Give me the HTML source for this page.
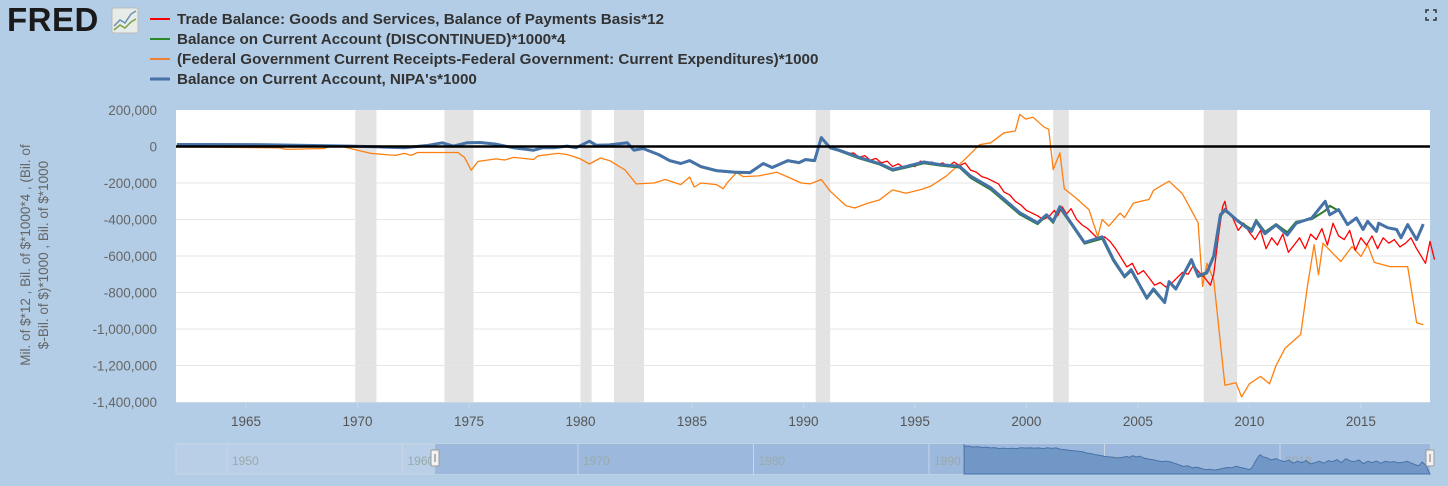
<!DOCTYPE html>
<html><head><meta charset="utf-8">
<style>
body{margin:0;background:#b3cde6;font-family:"Liberation Sans",sans-serif;}
#wrap{position:relative;width:1448px;height:486px;overflow:hidden;background:#b3cde6;}
svg text{font-family:"Liberation Sans",sans-serif;}
</style></head>
<body>
<div id="wrap">
<svg id="chart" width="1448" height="486">
  <g>
    <text x="7" y="31" font-size="33" font-weight="bold" fill="#1a1a1a" letter-spacing="0.5">FRED</text>
    <rect x="112" y="8" width="26" height="25" rx="2" fill="#e8ece8" stroke="#bbb"/>
    <polyline points="114,26 120,20 125,23 131,14 136,11" fill="none" stroke="#6b8fb5" stroke-width="1.5"/>
    <polyline points="114,30 120,25 125,28 131,22 136,19" fill="none" stroke="#7aa04a" stroke-width="1.5"/>
  </g>
  <g font-size="15.2" font-weight="bold" fill="#333">
    <g><line x1="150" y1="19" x2="170" y2="19" stroke="#ff0000" stroke-width="2"/><text x="177" y="24">Trade Balance: Goods and Services, Balance of Payments Basis*12</text></g>
    <g><line x1="150" y1="39" x2="170" y2="39" stroke="#2a8a2a" stroke-width="2"/><text x="177" y="44">Balance on Current Account (DISCONTINUED)*1000*4</text></g>
    <g><line x1="150" y1="59" x2="170" y2="59" stroke="#f08030" stroke-width="2"/><text x="177" y="64">(Federal Government Current Receipts-Federal Government: Current Expenditures)*1000</text></g>
    <g><line x1="150" y1="79" x2="170" y2="79" stroke="#4572a7" stroke-width="3"/><text x="177" y="84">Balance on Current Account, NIPA's*1000</text></g>
  </g>
  <g stroke="#333" stroke-width="1.5" fill="none">
    <polyline points="1426,13 1426,10 1429,10"/><polyline points="1433,10 1436,10 1436,13"/>
    <polyline points="1426,17 1426,20 1429,20"/><polyline points="1433,20 1436,20 1436,17"/>
  </g>
  <text transform="translate(30,255) rotate(-90)" text-anchor="middle" font-size="13.5" fill="#666">Mil. of $*12 , Bil. of $*1000*4 , (Bil. of</text>
  <text transform="translate(48,255) rotate(-90)" text-anchor="middle" font-size="13.5" fill="#666">$-Bil. of $)*1000 , Bil. of $*1000</text>
  <rect x="176" y="110" width="1254" height="292" fill="#fff"/>
  <g id="rec"></g><g id="grid"></g><g id="yt"></g><g id="xt"></g><g id="series"></g><g id="nav"></g>
</svg>
</div>
<script>
const recStart=[1969.9,1973.9,1980.0,1981.5,1990.55,2001.2,2007.95];
const recEnd=[1970.85,1975.2,1980.5,1982.85,1991.2,2001.9,2009.45];
const yTicks=[200000,0,-200000,-400000,-600000,-800000,-1000000,-1200000,-1400000];
const xTicks=[1965,1970,1975,1980,1985,1990,1995,2000,2005,2010,2015];
const navTicks=[1950,1960,1970,1980,1990,2000,2010];
// NIPA current account (blue), values in thousands
const blueYears=[1961.9,1965.9,1969.7,1971.0,1972.1,1973.2,1973.8,1974.3,1974.9,1975.5,1976.2,1977.0,1977.9,1978.3,1978.8,1979.4,1979.8,1980.4,1980.7,1981.3,1982.1,1982.4,1982.8,1983.5,1984.0,1984.5,1984.9,1985.4,1986.1,1986.9,1987.6,1988.2,1988.6,1989.3,1989.8,1990.1,1990.5,1990.8,1991.2,1991.6,1992.5,1993.4,1994.0,1994.6,1995.4,1996.2,1997.0,1997.5,1998.4,1999.7,2000.5,2000.9,2001.2,2001.5,2002.0,2002.6,2003.4,2003.9,2004.4,2004.7,2005.4,2005.7,2006.2,2006.4,2006.7,2007.4,2007.7,2008.1,2008.4,2008.7,2008.9,2009.5,2010.1,2010.3,2010.7,2011.2,2011.7,2012.1,2012.8,2013.4,2013.6,2014.0,2014.4,2014.8,2015.1,2015.3,2015.7,2015.8,2016.2,2016.6,2016.8,2017.1,2017.5,2017.8];
const blueVals=[11,10,2,-2,-7,7,20,2,20,22,13,-7,-20,-7,-7,2,-7,29,7,9,20,-20,-11,-44,-77,-93,-77,-110,-132,-140,-143,-93,-115,-77,-88,-71,-77,49,-7,-20,-60,-93,-126,-110,-85,-100,-108,-163,-226,-363,-418,-374,-410,-330,-418,-526,-495,-620,-712,-675,-830,-780,-855,-740,-780,-620,-710,-690,-600,-374,-346,-410,-465,-410,-478,-430,-485,-420,-392,-300,-374,-346,-428,-392,-455,-410,-465,-420,-445,-455,-500,-428,-510,-425];
// discontinued current account (green)
const greenYears=[1961.9,1965.9,1969.7,1971.0,1972.1,1973.2,1973.8,1974.3,1974.9,1975.5,1976.2,1977.0,1977.9,1978.3,1978.8,1979.4,1979.8,1980.4,1980.7,1981.3,1982.1,1982.4,1982.8,1983.5,1984.0,1984.5,1984.9,1985.4,1986.1,1986.9,1987.6,1988.2,1988.6,1989.3,1989.8,1990.1,1990.5,1990.8,1991.2,1991.6,1992.5,1993.4,1994.0,1994.6,1995.4,1996.2,1997.0,1997.5,1998.4,1999.7,2000.5,2000.9,2001.2,2001.5,2002.0,2002.6,2003.4,2003.9,2004.4,2004.7,2005.4,2005.7,2006.2,2006.4,2006.7,2007.4,2007.7,2008.1,2008.4,2008.7,2008.9,2009.5,2010.1,2010.3,2010.7,2011.2,2011.7,2012.1,2012.8,2013.4,2013.6,2014.0];
const greenVals=[10,9,2,-3,-8,6,19,2,19,21,12,-8,-21,-8,-8,1,-8,28,6,8,19,-21,-12,-46,-80,-95,-80,-113,-135,-143,-146,-96,-118,-80,-91,-74,-80,45,-10,-24,-65,-98,-132,-116,-92,-106,-115,-172,-236,-372,-425,-380,-418,-338,-425,-532,-505,-628,-718,-682,-835,-788,-858,-745,-784,-628,-715,-695,-606,-382,-352,-406,-455,-402,-468,-425,-470,-412,-398,-352,-325,-352];
// federal surplus (orange)
const orangeYears=[1961.9,1966.5,1966.8,1968.5,1968.7,1969.3,1970.6,1971.7,1972.1,1972.4,1972.7,1974.5,1974.8,1975.1,1975.4,1976.2,1976.6,1977.0,1977.9,1978.1,1979.0,1979.4,1980.0,1980.4,1980.9,1981.3,1982.0,1982.5,1983.3,1983.8,1984.5,1984.9,1985.1,1985.4,1986.1,1986.4,1986.6,1987.0,1987.3,1988.0,1988.8,1989.3,1989.9,1990.3,1990.8,1991.2,1991.9,1992.3,1992.9,1993.4,1994.0,1994.6,1995.3,1995.7,1996.4,1997.2,1997.9,1998.4,1999.0,1999.5,1999.7,1999.97,2000.3,2000.8,2001.0,2001.2,2001.5,2001.7,2002.2,2002.8,2003.2,2003.4,2003.7,2004.2,2004.4,2004.8,2005.5,2005.7,2006.4,2007.0,2007.7,2007.9,2008.1,2008.4,2008.9,2009.4,2009.65,2010.0,2010.5,2010.9,2011.2,2011.6,2012.3,2012.6,2012.9,2013.1,2013.3,2014.1,2014.6,2015.0,2015.3,2015.6,2016.3,2017.1,2017.5,2017.8];
const orangeVals=[-2,-7,-16,-11,0,0,-38,-49,-38,-49,-33,-33,-60,-130,-82,-68,-74,-60,-71,-51,-38,-44,-68,-96,-63,-77,-129,-205,-200,-181,-209,-167,-222,-200,-209,-231,-196,-143,-165,-161,-141,-167,-200,-205,-181,-245,-324,-337,-310,-293,-238,-256,-235,-218,-163,-75,10,20,75,85,176,150,160,105,95,-126,-35,-231,-280,-346,-493,-400,-436,-365,-390,-310,-290,-240,-190,-260,-418,-767,-640,-730,-1308,-1295,-1372,-1300,-1260,-1300,-1200,-1105,-1030,-767,-538,-703,-530,-630,-548,-603,-538,-635,-658,-658,-965,-977];
// trade balance (red)
const redYears=[1992.0,1992.25,1992.5,1992.75,1993.0,1993.25,1993.5,1993.75,1994.0,1994.25,1994.5,1994.75,1995.0,1995.25,1995.5,1995.75,1996.0,1996.25,1996.5,1996.75,1997.0,1997.25,1997.5,1997.75,1998.0,1998.25,1998.5,1998.75,1999.0,1999.25,1999.5,1999.75,2000.0,2000.25,2000.5,2000.75,2001.0,2001.25,2001.4,2001.6,2001.8,2002.0,2002.25,2002.5,2002.75,2003.0,2003.25,2003.5,2003.75,2004.0,2004.25,2004.5,2004.75,2005.0,2005.25,2005.5,2005.75,2006.0,2006.25,2006.5,2006.75,2007.0,2007.25,2007.5,2007.75,2008.0,2008.25,2008.4,2008.6,2008.8,2008.9,2009.0,2009.25,2009.5,2009.75,2010.0,2010.25,2010.5,2010.75,2011.0,2011.25,2011.5,2011.75,2012.0,2012.25,2012.5,2012.75,2013.0,2013.25,2013.5,2013.75,2014.0,2014.25,2014.5,2014.75,2015.0,2015.25,2015.5,2015.75,2016.0,2016.25,2016.5,2016.75,2017.0,2017.25,2017.5,2017.75,2017.9,2018.1,2018.3];
const redVals=[-40,-35,-60,-50,-75,-65,-90,-80,-110,-95,-115,-100,-110,-80,-95,-85,-100,-90,-110,-85,-105,-90,-130,-140,-165,-175,-190,-205,-250,-265,-300,-320,-350,-365,-380,-400,-385,-350,-380,-330,-370,-340,-400,-430,-450,-480,-510,-495,-520,-560,-610,-660,-640,-700,-680,-720,-760,-745,-770,-750,-720,-690,-700,-650,-690,-720,-760,-700,-500,-330,-300,-360,-390,-460,-420,-470,-510,-460,-560,-500,-540,-480,-580,-540,-500,-560,-480,-510,-450,-540,-420,-490,-510,-460,-570,-500,-540,-490,-560,-500,-530,-510,-550,-530,-500,-560,-610,-640,-520,-620];

const NS='http://www.w3.org/2000/svg';
const X0=176,X1=1430,Y0=110,Y1=402;
const xs=y=>X0+(y-1961.86)/(2018.1-1961.86)*(X1-X0);
const ys=v=>Y0+(200000-v)/1600000*(Y1-Y0);
function mk(tag,attrs,parent){const e=document.createElementNS(NS,tag);for(const k in attrs)e.setAttribute(k,attrs[k]);document.getElementById(parent).appendChild(e);return e;}
recStart.forEach((s,i)=>{const r=mk('rect',{x:xs(s),y:Y0,width:xs(recEnd[i])-xs(s),height:Y1-Y0,fill:'#e3e3e3'},'rec');

});
yTicks.forEach(v=>{if(v!==0&&v!==200000&&v!==-1400000){const l=mk('line',{x1:X0,x2:X1,y1:ys(v),y2:ys(v),stroke:'#e6e6e6','stroke-width':1},'grid');

}
const t=mk('text',{x:157,y:ys(v)+5,'text-anchor':'end','font-size':13.5,fill:'#666'},'yt');t.textContent=v.toLocaleString('en-US');

});
xTicks.forEach(y=>{const t=mk('text',{x:xs(y),y:426,'text-anchor':'middle','font-size':13.5,fill:'#555'},'xt');t.textContent=y;


const l=mk('line',{x1:xs(y),x2:xs(y),y1:402,y2:409,stroke:'#c8d8e8'},'xt');

});
const ax=mk('line',{x1:X0,x2:X1,y1:402.5,y2:402.5,stroke:'#c8d8e8','stroke-width':1},'xt');


function path(yrs,vals,color,w,name){const d=yrs.map((y,i)=>(i?'L':'M')+xs(y).toFixed(1)+','+ys(vals[i]*1000).toFixed(1)).join('');
const p=mk('path',{d:d,fill:'none',stroke:color,'stroke-width':w,'stroke-linejoin':'round'},'series');

}
path(orangeYears,orangeVals,'#ff7f0e',1.3,'series-federal-surplus');
path(redYears,redVals,'#ff0000',1.3,'series-trade-balance');
path(greenYears,greenVals,'#2a7a2a',2,'series-current-account-discontinued');
path(blueYears,blueVals,'#4572a7',3,'series-current-account-nipa');
const zl=mk('line',{x1:X0,x2:X1,y1:ys(0),y2:ys(0),stroke:'#000','stroke-width':2.5},'series');


// navigator
const nx=y=>227+(y-1950)*17.55, ny=v=>445+(-v)/860*28;
const nb=mk('rect',{x:176,y:444,width:1254,height:30,fill:'#b8cfe7',stroke:'#c9d6e3'},'nav');


const sel=mk('rect',{x:435,y:444,width:995,height:30,fill:'#9db8dd'},'nav');


navTicks.forEach(y=>{const l=mk('line',{x1:nx(y),x2:nx(y),y1:444,y2:474,stroke:'#c9d6e6'},'nav');


const t=mk('text',{x:nx(y)+5,y:465,'font-size':12,fill:'#9aa'},'nav');t.textContent=y;

});
let nd='M'+nx(1992)+',444 ';
redYears.forEach((y,i)=>{nd+='L'+nx(y).toFixed(1)+','+ny(redVals[i]).toFixed(1)+' ';});
nd+='L1430,474 L'+nx(1992)+',474Z';
const na=mk('path',{d:nd,fill:'#7097c6',stroke:'#4a72a8','stroke-width':1},'nav');


[435,1430].forEach(x=>{const h=mk('rect',{x:x-4,y:450,width:8,height:16,fill:'#f2f2f2',stroke:'#999',rx:1},'nav');


const g=mk('line',{x1:x,x2:x,y1:454,y2:462,stroke:'#777'},'nav');

});
</script>
</body></html>
